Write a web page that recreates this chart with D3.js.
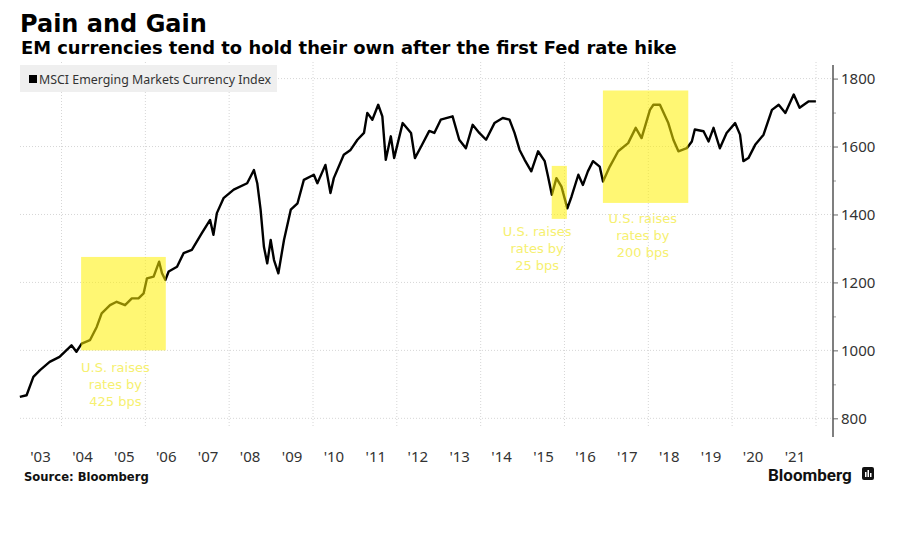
<!DOCTYPE html>
<html>
<head>
<meta charset="utf-8">
<script src="https://cdn.jsdelivr.net/npm/d3@7"></script>
<style>
  html, body { margin: 0; padding: 0; background: #ffffff; }
  svg { display: block; }
</style>
</head>
<body>
<svg id="chart" width="899" height="544"></svg>
<script>
// ---------- DATA ----------
const titleText = "Pain and Gain";
const subtitleText = "EM currencies tend to hold their own after the first Fed rate hike";
const seriesName = "MSCI Emerging Markets Currency Index";
const sourceText = "Source: Bloomberg";

const dates = [
  "2003-01-03","2003-03-03","2003-05-01","2003-06-28","2003-09-20","2003-12-15",
  "2004-03-28","2004-05-10","2004-06-25","2004-09-05","2004-11-03","2004-12-16",
  "2005-02-27","2005-04-26","2005-07-08","2005-09-05","2005-11-02","2005-12-17",
  "2006-01-15","2006-03-14","2006-05-01","2006-05-26","2006-06-24","2006-07-23","2006-10-04","2006-11-30",
  "2007-02-10","2007-05-08","2007-07-19","2007-08-17","2007-09-16","2007-11-13",
  "2008-02-10","2008-06-06","2008-08-04","2008-09-02","2008-10-01","2008-10-30","2008-11-28","2008-12-28",
  "2009-01-26","2009-03-05","2009-04-23","2009-06-21","2009-08-19","2009-10-13",
  "2010-01-08","2010-02-08","2010-04-19","2010-06-02","2010-07-01","2010-09-26","2010-11-24",
  "2011-01-23","2011-03-21","2011-04-19","2011-06-02","2011-07-23","2011-08-28","2011-09-27","2011-11-10","2011-12-09",
  "2012-02-21","2012-05-04","2012-06-07","2012-07-31","2012-10-10","2012-11-23",
  "2013-01-18","2013-05-01","2013-06-28","2013-08-25","2013-10-23","2013-12-20",
  "2014-02-17","2014-05-01","2014-07-12","2014-09-09","2014-10-23","2014-12-06",
  "2015-01-19","2015-03-18","2015-05-16","2015-07-13","2015-08-11","2015-09-13","2015-10-23","2015-12-06",
  "2016-01-26","2016-03-03","2016-05-01","2016-06-10","2016-07-23","2016-09-06","2016-11-03","2016-12-02",
  "2017-01-30","2017-04-13","2017-07-09","2017-09-13","2017-11-03",
  "2018-01-15","2018-02-14","2018-04-12","2018-06-24","2018-08-07","2018-09-20","2018-12-02",
  "2019-01-15","2019-02-10","2019-04-27","2019-06-10","2019-07-23","2019-09-16","2019-11-14",
  "2020-01-27","2020-03-10","2020-04-08","2020-05-22","2020-07-20","2020-10-01","2020-12-13",
  "2021-02-10","2021-04-09","2021-06-21","2021-08-11","2021-10-30","2021-12-31"
];
const values = [
  863,868,922,942,966,981,
  1015,996,1020,1030,1069,1109,
  1133,1143,1133,1153,1153,1168,
  1212,1217,1261,1227,1207,1232,1246,1286,
  1296,1345,1384,1340,1404,1448,
  1473,1492,1531,1492,1414,1305,1256,1325,
  1266,1227,1325,1414,1433,1502,
  1517,1492,1546,1463,1507,1576,1590,
  1620,1640,1699,1679,1723,1689,1561,1630,1566,
  1669,1640,1566,1600,1646,1640,
  1679,1689,1620,1595,1664,1640,
  1620,1669,1684,1679,1640,1590,
  1561,1527,1586,1557,1512,1458,1507,1482,
  1418,1453,1517,1487,1527,1557,1541,1497,
  1541,1586,1610,1655,1625,
  1708,1723,1723,1669,1620,1586,1595,
  1615,1650,1645,1615,1655,1595,1640,
  1669,1635,1557,1566,1605,1635,1708,
  1723,1699,1753,1714,1733,1733
];

const yTicks = [800, 1000, 1200, 1400, 1600, 1800];
const yMinorTicks = [900, 1100, 1300, 1500, 1700];
const xTickYears = [2003,2004,2005,2006,2007,2008,2009,2010,2011,2012,2013,2014,2015,2016,2017,2018,2019,2020,2021];
const xTickLabels = ["'03","'04","'05","'06","'07","'08","'09","'10","'11","'12","'13","'14","'15","'16","'17","'18","'19","'20","'21"];
const xGridYears = [2004,2006,2008,2010,2012,2014,2016,2018,2020,2022];

// hike periods (boxes)
const boxStarts = ["2004-06-20","2015-09-12","2016-12-01"];
const boxEnds   = ["2006-06-28","2016-01-22","2018-12-15"];
const boxLows   = [1000, 1387, 1434];
const boxHighs  = [1275, 1543, 1765];
const boxLabels = [
  ["U.S. raises","rates by","425 bps"],
  ["U.S. raises","rates by","25 bps"],
  ["U.S. raises","rates by","200 bps"]
];
const labelDates  = ["2005-04-15","2015-05-08","2017-11-14"];
const labelValues = [935, 1337, 1375];

// ---------- CHART ----------
const parse = d3.timeParse("%Y-%m-%d");
const data = dates.map((d, i) => ({ date: parse(d), value: values[i] }));

const svg = d3.select("#chart");
const x = d3.scaleTime()
  .domain([new Date(2003, 0, 1), new Date(2022, 0, 1)])
  .range([19.6, 816]);
const y = d3.scaleLinear().domain([745, 1840]).range([437, 65]);

const plotLeft = 20, axisX = 833, plotTop = 62, gridBottom = 428;

// title
svg.append("text").attr("x", 20).attr("y", 32)
  .attr("font-family", "DejaVu Sans").attr("font-weight", "bold")
  .attr("font-size", 24).attr("fill", "#000").text(titleText);
svg.append("text").attr("x", 21).attr("y", 54)
  .attr("font-family", "DejaVu Sans").attr("font-weight", "bold")
  .attr("font-size", 17.9).attr("fill", "#000").text(subtitleText);

// gridlines
const grid = svg.append("g");
grid.selectAll("line.h").data(yTicks).join("line")
  .attr("x1", plotLeft).attr("x2", axisX)
  .attr("y1", d => y(d)).attr("y2", d => y(d))
  .attr("stroke", "#d6d6d6").attr("stroke-width", 1).attr("stroke-dasharray", "1,2");
grid.selectAll("line.v").data(xGridYears).join("line")
  .attr("x1", d => x(new Date(d, 0, 1))).attr("x2", d => x(new Date(d, 0, 1)))
  .attr("y1", plotTop).attr("y2", gridBottom)
  .attr("stroke", "#d6d6d6").attr("stroke-width", 1).attr("stroke-dasharray", "1,2");

// legend
const leg = svg.append("g");
leg.append("rect").attr("x", 20).attr("y", 65).attr("width", 257).attr("height", 27).attr("fill", "#efefef");
leg.append("rect").attr("x", 29).attr("y", 75).attr("width", 8).attr("height", 8).attr("fill", "#000");
leg.append("text").attr("x", 39).attr("y", 84)
  .attr("font-family", "Noto Sans").attr("font-size", 12.4).attr("fill", "#333").text(seriesName);

// line
const line = d3.line().x(d => x(d.date)).y(d => y(d.value)).curve(d3.curveLinear);
svg.append("path").datum(data).attr("d", line)
  .attr("fill", "none").attr("stroke", "#000").attr("stroke-width", 2.4)
  .attr("stroke-linejoin", "round");

// boxes
const boxes = boxStarts.map((s, i) => ({ s: parse(s), e: parse(boxEnds[i]), lo: boxLows[i], hi: boxHighs[i] }));
svg.append("g").selectAll("rect").data(boxes).join("rect")
  .attr("x", d => x(d.s)).attr("width", d => x(d.e) - x(d.s))
  .attr("y", d => y(d.hi)).attr("height", d => y(d.lo) - y(d.hi))
  .attr("fill", "#fff000").attr("fill-opacity", 0.55);

// box labels
const lab = svg.append("g");
boxLabels.forEach((lines, i) => {
  lines.forEach((l, j) => {
    lab.append("text")
      .attr("x", x(parse(labelDates[i])))
      .attr("y", y(labelValues[i]) + j * 17)
      .attr("text-anchor", "middle").attr("font-family", "DejaVu Sans")
      .attr("font-size", 13).attr("fill", "#f6f070").text(l);
  });
});

// y axis
const yAxis = d3.axisRight(y).tickValues(yTicks).tickSize(5).tickPadding(3).tickFormat(d3.format("d"));
const ya = svg.append("g").attr("transform", `translate(${axisX},0)`).call(yAxis);
ya.select(".domain").remove();
ya.selectAll(".tick line").attr("stroke", "#666");
ya.selectAll(".tick text").attr("font-family", "Noto Sans").attr("font-size", 15).attr("fill", "#333");
const yMinor = d3.axisRight(y).tickValues(yMinorTicks).tickSize(3).tickFormat("");
const ym = svg.append("g").attr("transform", `translate(${axisX},0)`).call(yMinor);
ym.select(".domain").remove();
ym.selectAll(".tick line").attr("stroke", "#999");
svg.append("line").attr("x1", axisX).attr("x2", axisX).attr("y1", y(1840)).attr("y2", y(745))
  .attr("stroke", "#555").attr("stroke-width", 1.5);

// x axis labels (mid-year)
const xa = svg.append("g");
xa.selectAll("text").data(xTickYears).join("text")
  .attr("x", d => x(new Date(d, 6, 2)))
  .attr("y", 462).attr("text-anchor", "middle")
  .attr("font-family", "Noto Sans").attr("font-size", 15).attr("fill", "#333")
  .text((d, i) => xTickLabels[i]);

// footer
svg.append("text").attr("x", 24).attr("y", 481)
  .attr("font-family", "DejaVu Sans").attr("font-weight", "bold")
  .attr("font-size", 11.6).attr("fill", "#111").text(sourceText);
svg.append("text").attr("x", 768).attr("y", 481)
  .attr("font-family", "Roboto").attr("font-weight", "bold")
  .attr("font-size", 17).attr("fill", "#111").text("Bloomberg");
const icon = svg.append("g").attr("transform", "translate(862,467)");
icon.append("rect").attr("width", 12).attr("height", 13).attr("rx", 2).attr("fill", "#111");
icon.append("rect").attr("x", 3).attr("y", 5).attr("width", 1.5).attr("height", 5).attr("fill", "#fff");
icon.append("rect").attr("x", 5.5).attr("y", 3).attr("width", 1.5).attr("height", 7).attr("fill", "#fff");
icon.append("rect").attr("x", 8).attr("y", 6).attr("width", 1.5).attr("height", 4).attr("fill", "#fff");
</script>
</body>
</html>
